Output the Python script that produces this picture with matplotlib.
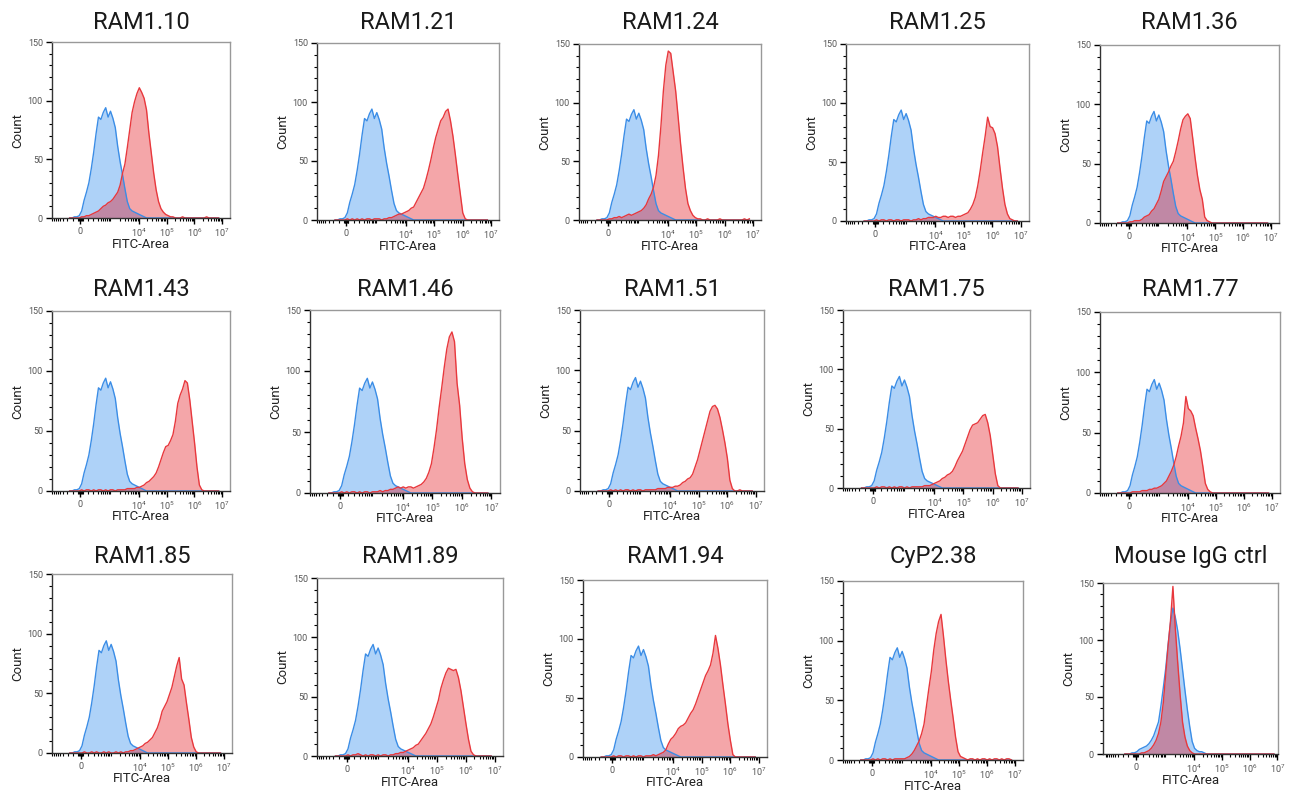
import numpy as np
import matplotlib
matplotlib.use("Agg")
import matplotlib.pyplot as plt
from matplotlib.ticker import NullFormatter

plt.rcParams['font.family'] = ['Roboto', 'DejaVu Sans']

# panel titles, row by row
titles = ["RAM1.10", "RAM1.21", "RAM1.24", "RAM1.25", "RAM1.36",
          "RAM1.43", "RAM1.46", "RAM1.51", "RAM1.75", "RAM1.77",
          "RAM1.85", "RAM1.89", "RAM1.94", "CyP2.38", "Mouse IgG ctrl"]

# counts per channel (63 channels on the FITC-Area display axis)
blue_ctrl = [0, 0, 1, 1, 2, 6, 15, 22, 30,
             42, 56, 72, 86, 84, 90, 94, 86, 91,
             85, 77, 61, 48, 37, 25, 14, 8, 6,
             5, 4, 3, 2, 1, 0, 0, 0, 0,
             0, 0, 0, 0, 0, 0, 0, 0, 0,
             0, 0, 0, 0, 0, 0, 0, 0, 0,
             0, 0, 0, 0, 0, 0, 0, 0, 0]

blue_igg = [0, 0, 0, 1, 1, 2, 4, 5, 6,
            7, 9, 12, 16, 22, 28, 42, 58, 75,
            96, 115, 128, 120, 108, 92, 74, 56, 39,
            24, 11, 5, 3, 2, 2, 1, 0, 0,
            0, 0, 0, 0, 0, 0, 0, 0, 0,
            0, 0, 0, 0, 0, 0, 0, 0, 0,
            0, 0, 0, 0, 0, 0, 0, 0, 0]

red_ram1_10 = [0, 0, 0, 0, 0, 1, 1, 2, 2,
               3, 4, 5, 6, 8, 10, 11, 13, 14,
               16, 19, 22, 28, 38, 46, 60, 75, 90,
               99, 106, 111, 107, 102, 92, 72, 55, 38,
               24, 14, 8, 5, 3, 2, 1, 1, 0,
               0, 0, 1, 0, 0, 0, 0, 0, 0,
               0, 0, 0, 1, 0, 0, 0, 0, 0]

red_ram1_21 = [0, 0, 0, 0, 0, 1, 0, 1, 0,
               1, 0, 1, 0, 1, 1, 0, 1, 1,
               1, 0, 1, 1, 2, 2, 3, 4, 5,
               5, 6, 7, 8, 10, 11, 15, 19, 23,
               27, 34, 42, 51, 61, 70, 77, 84, 87,
               92, 94, 84, 71, 55, 38, 22, 6, 1,
               0, 0, 0, 0, 0, 0, 0, 0, 0]

red_ram1_24 = [0, 0, 0, 0, 0, 1, 1, 2, 2,
               3, 2, 3, 4, 5, 4, 5, 6, 7,
               8, 10, 13, 18, 22, 28, 38, 55, 80,
               110, 132, 144, 142, 126, 110, 88, 65, 45,
               27, 14, 8, 4, 2, 1, 1, 0, 0,
               1, 0, 0, 0, 0, 1, 0, 0, 0,
               0, 0, 0, 0, 0, 0, 1, 0, 1]

red_ram1_25 = [0, 0, 0, 0, 0, 1, 0, 1, 1,
               0, 1, 1, 0, 1, 1, 0, 1, 1,
               1, 0, 1, 1, 2, 1, 2, 2, 3,
               3, 3, 4, 3, 3, 4, 4, 3, 4,
               4, 3, 4, 4, 5, 6, 7, 10, 14,
               20, 30, 43, 58, 72, 88, 80, 79, 74,
               63, 45, 28, 14, 6, 2, 1, 0, 0]

red_ram1_36 = [0, 0, 0, 0, 0, 1, 1, 2, 2,
               2, 3, 5, 6, 7, 10, 12, 16, 20,
               27, 35, 39, 43, 48, 52, 60, 69, 79,
               87, 90, 92, 88, 72, 55, 40, 28, 20,
               5, 2, 1, 0, 0, 0, 0, 0, 0,
               0, 0, 0, 0, 0, 0, 0, 0, 0,
               0, 0, 0, 0, 0, 0, 0, 0, 0]

red_ram1_43 = [0, 0, 0, 0, 0, 1, 0, 1, 1,
               0, 1, 0, 1, 1, 0, 1, 0, 1,
               1, 0, 1, 1, 1, 1, 2, 2, 2,
               2, 3, 3, 4, 5, 7, 8, 10, 12,
               15, 20, 26, 32, 37, 38, 42, 47, 58,
               73, 80, 85, 92, 90, 76, 58, 40, 20,
               5, 1, 0, 0, 0, 0, 0, 0, 0]

red_ram1_46 = [0, 0, 0, 0, 0, 1, 0, 1, 0,
               1, 1, 0, 1, 0, 1, 1, 0, 1,
               1, 1, 2, 1, 2, 2, 3, 3, 4,
               5, 4, 5, 4, 5, 5, 4, 5, 6,
               7, 9, 12, 17, 24, 37, 52, 70, 86,
               103, 118, 128, 132, 124, 90, 72, 45, 24,
               11, 4, 1, 0, 0, 0, 0, 0, 0]

red_ram1_51 = [0, 0, 0, 0, 0, 1, 0, 1, 0,
               1, 0, 1, 1, 0, 1, 0, 1, 1,
               0, 1, 1, 1, 1, 1, 2, 2, 2,
               2, 3, 3, 3, 4, 4, 5, 7, 8,
               10, 11, 14, 20, 26, 34, 42, 50, 58,
               66, 70, 71, 68, 61, 51, 40, 27, 9,
               2, 0, 0, 1, 0, 0, 0, 0, 0]

red_ram1_75 = [0, 0, 0, 0, 0, 0, 1, 0, 1,
               1, 0, 1, 0, 1, 0, 1, 1, 0,
               1, 0, 1, 1, 1, 1, 1, 2, 2,
               2, 3, 4, 5, 6, 8, 9, 11, 12,
               14, 18, 23, 27, 31, 37, 43, 49, 53,
               54, 55, 58, 61, 62, 55, 44, 28, 12,
               2, 0, 0, 0, 0, 0, 0, 0, 0]

red_ram1_77 = [0, 0, 0, 0, 0, 0, 1, 1, 1,
               1, 2, 2, 2, 3, 3, 4, 4, 5,
               6, 8, 10, 14, 18, 23, 30, 39, 47,
               58, 80, 70, 68, 64, 54, 45, 35, 22,
               8, 3, 1, 0, 0, 0, 0, 0, 0,
               0, 0, 0, 0, 0, 0, 0, 0, 0,
               0, 0, 0, 0, 0, 0, 0, 0, 0]

red_ram1_85 = [0, 0, 0, 0, 0, 0, 1, 0, 0,
               1, 0, 1, 0, 0, 1, 0, 1, 0,
               0, 1, 0, 1, 0, 1, 1, 2, 2,
               3, 4, 5, 6, 8, 9, 11, 13, 17,
               21, 27, 35, 39, 43, 49, 55, 64, 73,
               80, 62, 57, 42, 28, 13, 5, 1, 0,
               0, 0, 0, 0, 0, 0, 0, 0, 0]

red_ram1_89 = [0, 0, 0, 0, 0, 1, 0, 1, 1,
               2, 1, 0, 1, 0, 1, 1, 0, 1,
               0, 1, 1, 0, 1, 1, 2, 2, 3,
               3, 4, 5, 6, 7, 9, 10, 13, 16,
               19, 23, 27, 33, 40, 47, 57, 64, 70,
               74, 73, 72, 73, 66, 55, 41, 27, 14,
               4, 1, 0, 0, 0, 0, 0, 0, 0]

red_ram1_94 = [0, 0, 0, 0, 0, 1, 0, 1, 1,
               0, 1, 1, 0, 1, 0, 1, 1, 0,
               1, 1, 1, 2, 1, 2, 3, 4, 6,
               11, 15, 17, 20, 24, 26, 27, 29, 33,
               37, 40, 45, 51, 57, 63, 69, 73, 78,
               88, 103, 92, 78, 61, 45, 28, 14, 2,
               0, 0, 0, 0, 0, 0, 0, 0, 0]

red_cyp2_38 = [0, 0, 0, 0, 0, 1, 0, 1, 0,
               1, 1, 0, 1, 0, 1, 1, 1, 1,
               1, 2, 3, 5, 8, 12, 16, 22, 30,
               45, 60, 74, 92, 106, 116, 122, 104, 84,
               66, 50, 35, 19, 7, 3, 2, 1, 0,
               1, 1, 0, 1, 0, 1, 1, 0, 1,
               0, 1, 1, 0, 1, 0, 1, 1, 0]

red_igg = [0, 0, 0, 0, 0, 0, 0, 1, 1,
           2, 3, 5, 8, 12, 18, 28, 45, 70,
           95, 117, 147, 110, 80, 52, 28, 15, 7,
           3, 1, 0, 0, 0, 0, 0, 0, 0,
           0, 0, 0, 0, 0, 0, 0, 0, 0,
           0, 0, 0, 0, 0, 0, 0, 0, 0,
           0, 0, 0, 0, 0, 0, 0, 0, 0]

red_counts = [red_ram1_10, red_ram1_21, red_ram1_24, red_ram1_25, red_ram1_36,
              red_ram1_43, red_ram1_46, red_ram1_51, red_ram1_75, red_ram1_77,
              red_ram1_85, red_ram1_89, red_ram1_94, red_cyp2_38, red_igg]
blue_counts = [blue_ctrl] * 14 + [blue_igg]

xtick_vals = [0, 1e4, 1e5, 1e6, 1e7]
xtick_labels = ["0", r"$\mathregular{10^4}$", r"$\mathregular{10^5}$",
                r"$\mathregular{10^6}$", r"$\mathregular{10^7}$"]
ytick_vals = [0, 50, 100, 150]

# display channels: evenly spaced on the asinh (biexponential-like) axis
LIN_W = 153
fitc = LIN_W * np.sinh(np.linspace(-0.9, 11.5, 63))

# axes boxes in pixels: left, right, top, bottom
boxes = [(52, 230, 42, 218), (317, 499, 43, 220), (579, 761, 44, 220),
         (846, 1029, 44, 221), (1100, 1279, 45, 223),
         (52, 230, 311, 491), (310, 500, 310, 493), (580, 764, 310, 491),
         (843, 1030, 310, 488), (1100, 1280, 312, 493),
         (52, 232, 574, 753), (317, 503, 578, 756), (583, 767, 580, 757),
         (843, 1023, 581, 760), (1103, 1278, 583, 754)]
title_base = [29, 296, 563]

W, H = 1293, 796
fig = plt.figure(figsize=(W / 100, H / 100), dpi=100)

minor = [-30, -20, -10, 10, 20, 30]
minor += [s * 100 * k for s in (-1, 1) for k in range(1, 10)]
minor += [m * k for m in (1e3, 1e4, 1e5, 1e6) for k in range(2, 10)]

for i, (l, r, t, b) in enumerate(boxes):
    ax = fig.add_axes([l / W, 1 - b / H, (r - l) / W, (b - t) / H])
    ax.set_xscale('asinh', linear_width=LIN_W)
    blue = blue_counts[i]
    red = red_counts[i]
    ax.fill_between(fitc, blue, color='#4d9cf0', alpha=0.45, lw=0)
    ax.plot(fitc, blue, color='#3b8de6', lw=1)
    ax.fill_between(fitc, red, color='#e2000b', alpha=0.35, lw=0)
    ax.plot(fitc, red, color='#e8383d', lw=1)

    if i == 14:
        ax.set_xlim(-1150, 1.06e7)
    else:
        ax.set_xlim(-811, 1.95e7)
    ax.set_ylim(0, 150)

    lo, hi = ax.get_xlim()
    ax.set_xticks(xtick_vals)
    ax.set_xticklabels(xtick_labels)
    ax.set_xticks([v for v in minor if lo < v < hi], minor=True)
    ax.xaxis.set_minor_formatter(NullFormatter())
    ax.set_yticks(ytick_vals)
    ax.set_yticks(range(0, 151, 10), minor=True)
    ax.yaxis.set_minor_formatter(NullFormatter())
    ax.tick_params(which='major', direction='out', length=4, width=1,
                   labelsize=6.5, labelcolor='#555', pad=2.5)
    ax.tick_params(which='minor', direction='out', length=2, width=0.8)
    for s in ('left', 'bottom'):
        ax.spines[s].set_color('#333')
    for s in ('top', 'right'):
        ax.spines[s].set_color('#999')
    for s in ax.spines.values():
        s.set_linewidth(1)

    cx = (l + r) / 2
    fig.text(cx / W, 1 - title_base[i // 5] / H, titles[i], ha='center',
             va='baseline', fontsize=17, color='#1a1a1a')
    fig.text(cx / W, 1 - (b + 26) / H, "FITC-Area", ha='center', va='center',
             fontsize=9.5, color='#222')
    fig.text((l - 34) / W, 1 - (t + b) / 2 / H, "Count", ha='center',
             va='center', rotation=90, fontsize=9.5, color='#222')

fig.savefig("out.png", dpi=100)
